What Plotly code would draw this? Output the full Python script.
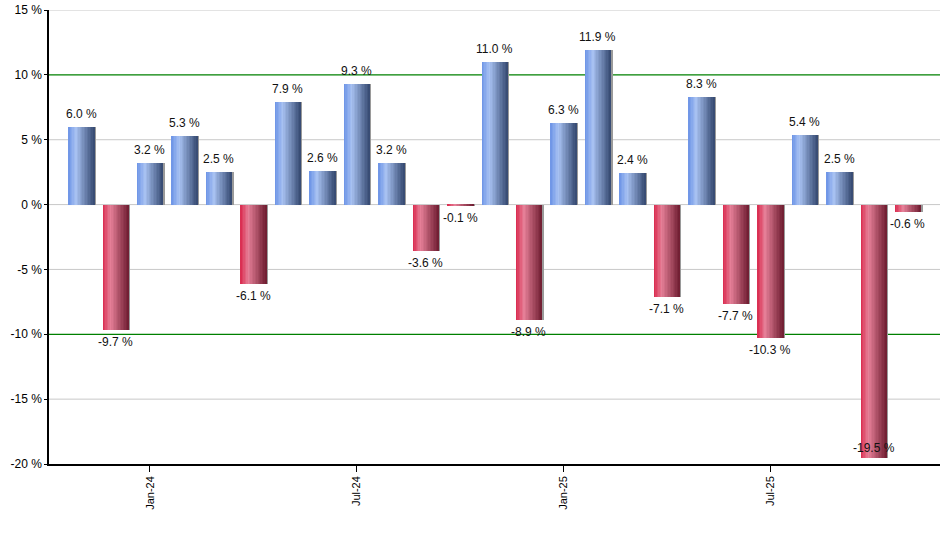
import plotly.graph_objects as go

# monthly returns, Nov-23 .. Nov-25
months = ["Nov-23", "Dec-23", "Jan-24", "Feb-24", "Mar-24", "Apr-24", "May-24",
          "Jun-24", "Jul-24", "Aug-24", "Sep-24", "Oct-24", "Nov-24", "Dec-24",
          "Jan-25", "Feb-25", "Mar-25", "Apr-25", "May-25", "Jun-25", "Jul-25",
          "Aug-25", "Sep-25", "Oct-25", "Nov-25"]
returns = [6.0, -9.7, 3.2, 5.3, 2.5, -6.1, 7.9, 2.6, 9.3, 3.2, -3.6, -0.1, 11.0,
           -8.9, 6.3, 11.9, 2.4, -7.1, 8.3, -7.7, -10.3, 5.4, 2.5, -19.5, -0.6]
tick_months = ["Jan-24", "Jul-24", "Jan-25", "Jul-25"]
y_ticks = [-20, -15, -10, -5, 0, 5, 10, 15]
green_lines = [10, -10]

# gradient stops (left -> highlight -> right)
blue_stops = [(0.0, (107, 147, 230)), (0.3, (168, 194, 242)), (1.0, (52, 72, 112))]
red_stops = [(0.0, (217, 40, 76)), (0.3, (230, 128, 152)), (1.0, (110, 28, 48))]


def grad(stops, t):
    for (t0, c0), (t1, c1) in zip(stops[:-1], stops[1:]):
        if t <= t1:
            f = (t - t0) / (t1 - t0)
            return "rgb(%d,%d,%d)" % tuple(round(a + (b - a) * f) for a, b in zip(c0, c1))
    return "rgb(%d,%d,%d)" % stops[-1][1]


fig = go.Figure()

bw = 0.75
n = 18
sw = bw / n

# shadow
fig.add_trace(go.Bar(x=months, y=returns, width=bw, offset=-bw / 2 + 0.05,
                     marker=dict(color="#9a9a9a", line_width=0),
                     hoverinfo="skip", showlegend=False))

for i in range(n):
    t = (i + 0.5) / n
    cols = [grad(blue_stops, t) if v >= 0 else grad(red_stops, t) for v in returns]
    fig.add_trace(go.Bar(x=months, y=returns, width=sw * 1.4,
                         offset=-bw / 2 + i * sw,
                         marker=dict(color=cols, line_width=0),
                         hoverinfo="skip", showlegend=False))

# value labels
for m, v in zip(months, returns):
    if v >= 0:
        dy = 13
    elif v < -17:
        dy = 10   # no room below, label sits inside the bar end
    else:
        dy = -12
    fig.add_annotation(x=m, y=v, text="%.1f %%" % v, showarrow=False,
                       yshift=dy, yanchor="middle",
                       font=dict(family="Liberation Sans, Arial", size=12, color="#111111"))

# grid lines drawn as shapes so the green ones stay under the bars
for g in y_ticks:
    if g == -20:
        continue
    col = "#008000" if g in green_lines else "#c8c8c8"
    fig.add_shape(type="line", xref="paper", x0=0, x1=1, yref="y", y0=g, y1=g,
                  line=dict(color=col, width=1.3 if g in green_lines else 1),
                  layer="below")

fig.update_layout(
    width=940, height=550,
    margin=dict(l=49, r=0, t=10, b=86),
    paper_bgcolor="white", plot_bgcolor="white",
    barmode="overlay", bargap=0,
    font=dict(family="Liberation Sans, Arial", size=12, color="#000000"),
)
fig.update_xaxes(type="category", range=[-0.93, len(months) - 1 + 0.93],
                 tickvals=tick_months, ticktext=tick_months, tickangle=-90,
                 tickfont=dict(size=11),
                 ticks="outside", ticklen=6, tickcolor="black",
                 showline=True, linecolor="black", linewidth=1.5,
                 showgrid=False, automargin=False)
fig.update_yaxes(range=[-20, 15.001], tickvals=y_ticks,
                 ticktext=["%d %%" % v for v in y_ticks],
                 showgrid=False, zeroline=False,
                 showline=True, linecolor="black", linewidth=1.5,
                 ticks="outside", ticklen=3, tickcolor="black", automargin=False)

# drop the default page margin so the chart sits at the window corner
fig.write_html("out.html", config={"displayModeBar": False},
               post_script="document.body.style.margin = '0px';")
